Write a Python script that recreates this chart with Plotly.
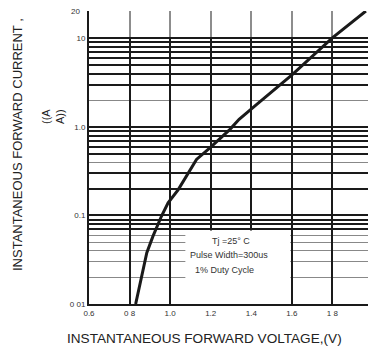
import plotly.graph_objects as go
import numpy as np

# Curve data
voltage = [0.83, 0.885, 0.915, 0.957, 0.99, 1.04, 1.13, 1.196, 1.295, 1.34, 1.427, 1.602, 1.801, 1.965]
current = [0.01, 0.038, 0.058, 0.098, 0.139, 0.196, 0.43, 0.58, 0.94, 1.22, 1.8, 3.9, 10.2, 20.4]

# Tick labels
x_tickvals = [0.6, 0.8, 1.0, 1.2, 1.4, 1.6, 1.8, 2.0]
x_ticktext = ["0.6", "0 8", "1.0", "1.2", "1.4", "1.6", "1 8", "2.0"]

y_label_vals = [0.01, 0.1, 1.0, 10]
y_label_text = ["0 01", "0.1", "1.0", "10"]
y_black_grid = [0.07, 0.08, 0.09, 0.1, 0.2, 0.3, 0.5, 0.6, 0.7, 0.8, 0.9, 1.0,
                3, 4, 5, 6, 7, 8, 9, 10]
y_gray_grid = [0.02, 0.03, 0.04, 0.05, 0.06, 0.4, 2, 20]

note_lines = ["Tj =25° C", "Pulse Width=300us", "1% Duty Cycle"]
note_y = [0.0517, 0.0359, 0.0243]
note_x = [1.30, 1.29, 1.27]

FONT = "Liberation Sans, Arial, sans-serif"

y_tickvals = sorted(set(y_black_grid + y_label_vals))
y_ticktext = [y_label_text[y_label_vals.index(v)] if v in y_label_vals else "" for v in y_tickvals]

# page body has an 8px margin; figure is sized/offset to compensate
OFF = 8
W, H = 376 - OFF, 351 - OFF
L, R, T, B = 89 - OFF, 3, 11 - OFF, 47

fig = go.Figure()
fig.add_trace(go.Scatter(x=voltage, y=current, mode="lines",
                         line=dict(color="#1a1a1a", width=3), showlegend=False))

fig.update_xaxes(range=[0.6, 2.0], tickmode="array", tickvals=x_tickvals, ticktext=x_ticktext,
                 showgrid=True, gridcolor="#1a1a1a", gridwidth=1.6,
                 showline=True, linecolor="#1a1a1a", linewidth=2,
                 ticks="", tickfont=dict(family=FONT, size=8, color="#333"),
                 zeroline=False)
fig.update_yaxes(type="log", range=[-2, 1.31], tickmode="array",
                 tickvals=y_tickvals, ticktext=y_ticktext,
                 showgrid=True, gridcolor="#1a1a1a", gridwidth=1.6,
                 minor=dict(tickmode="array", tickvals=y_gray_grid, showgrid=True,
                            gridcolor="#888888", gridwidth=1.4, ticks=""),
                 showline=True, linecolor="#1a1a1a", linewidth=2,
                 ticks="", tickfont=dict(family=FONT, size=8, color="#333"),
                 zeroline=False)

# 20 label at top
fig.add_annotation(x=0, xref="paper", y=np.log10(20), yref="y", text="20",
                   showarrow=False, xanchor="right", xshift=-7,
                   font=dict(family=FONT, size=8, color="#333"))

# lighten area above 10
fig.add_shape(type="rect", xref="x", yref="y", x0=0.6, x1=2.0, y0=10.4, y1=21,
              fillcolor="rgba(255,255,255,0.5)", line_width=0, layer="between")

# note box
fig.add_shape(type="rect", xref="x", yref="y", x0=1.075, x1=1.592, y0=0.0099, y1=0.0675,
              fillcolor="white", line_width=0, layer="between")
for t, xv, yv in zip(note_lines, note_x, note_y):
    fig.add_annotation(x=xv, y=np.log10(yv), xref="x", yref="y",
                       text=t, showarrow=False,
                       font=dict(family=FONT, size=9, color="#333"))

fig.update_layout(
    width=W, height=H,
    margin=dict(l=L, r=R, t=T, b=B),
    plot_bgcolor="white", paper_bgcolor="white",
    font=dict(family=FONT),
)

plot_w = W - L - R
plot_h = H - T - B
fig.add_annotation(x=(204 - 89) / plot_w, xref="paper", y=(304 - 338) / plot_h, yref="paper",
                   text="INSTANTANEOUS FORWARD VOLTAGE,(V)", showarrow=False,
                   font=dict(family=FONT, size=13.6, color="#222"), xanchor="center", yanchor="middle")
fig.add_annotation(x=(17 - 89) / plot_w, xref="paper", y=(304 - 145) / plot_h, yref="paper",
                   text="INSTANTANEOUS FORWARD CURRENT ,", showarrow=False, textangle=-90,
                   font=dict(family=FONT, size=13, color="#222"), xanchor="center", yanchor="middle")
fig.add_annotation(x=(53 - 89) / plot_w, xref="paper", y=(304 - 117) / plot_h, yref="paper",
                   text="((A<br>A))", showarrow=False, textangle=-90,
                   font=dict(family=FONT, size=11, color="#222"), xanchor="center", yanchor="middle")

fig.write_html("out.html")
